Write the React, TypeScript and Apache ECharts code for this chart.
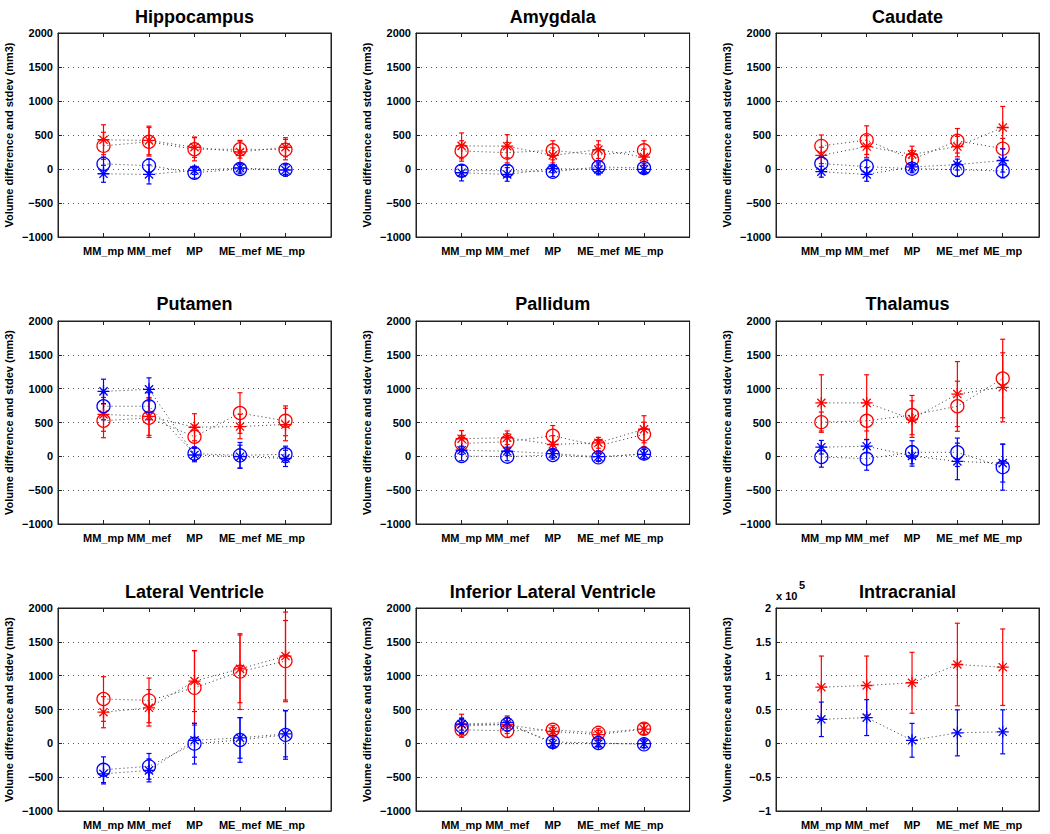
import React, { useEffect, useRef } from "react";
import * as echarts from "echarts";

const FONT = '"Liberation Sans", Arial, Helvetica, sans-serif';

const regions = [
  "Hippocampus",
  "Amygdala",
  "Caudate",
  "Putamen",
  "Pallidum",
  "Thalamus",
  "Lateral Ventricle",
  "Inferior Lateral Ventricle",
  "Intracranial",
];
const methods = ["MM_mp", "MM_mef", "MP", "ME_mef", "ME_mp"];

// one row per region, one value per method (mm3)
const redCircleMean: (number[] | null)[] = [
  [340, 400, 290, 290, 285],
  [265, 240, 275, 205, 275],
  [340, 425, 140, 415, 300],
  [525, 570, 290, 640, 525],
  [190, 215, 305, 155, 325],
  [505, 525, 610, 740, 1150],
  [655, 635, 820, 1060, 1215],
  [200, 185, 200, 155, 215],
  null,
];
const redCircleSd: (number[] | null)[] = [
  [200, 210, 170, 130, 150],
  [150, 150, 140, 150, 140],
  [160, 210, 130, 180, 150],
  [250, 290, 170, 300, 220],
  [120, 120, 150, 80, 180],
  [150, 280, 290, 370, 580],
  [330, 330, 550, 560, 600],
  [110, 100, 60, 60, 80],
  null,
];
const redStarMean: number[][] = [
  [430, 420, 320, 250, 320],
  [340, 335, 200, 285, 175],
  [200, 330, 215, 330, 610],
  [620, 590, 430, 440, 470],
  [260, 275, 175, 200, 400],
  [790, 790, 550, 920, 1020],
  [460, 525, 920, 1100, 1290],
  [280, 275, 175, 130, 210],
  [83000, 85500, 89500, 116500, 112500],
];
const redStarSd: number[][] = [
  [220, 210, 150, 160, 140],
  [190, 170, 110, 130, 120],
  [120, 160, 120, 150, 310],
  [250, 280, 200, 180, 240],
  [120, 100, 130, 80, 200],
  [415, 415, 270, 480, 510],
  [230, 270, 450, 500, 650],
  [150, 130, 60, 60, 80],
  [46000, 43500, 45000, 61000, 56500],
];
const blueCircleMean: (number[] | null)[] = [
  [75, 50, -55, 0, -10],
  [-25, -25, -40, 30, 15],
  [80, 35, 5, -10, -30],
  [740, 740, 40, 15, 30],
  [5, -5, 20, -15, 40],
  [-10, -35, 60, 60, -160],
  [-390, -340, -5, 50, 125],
  [255, 280, 20, 5, -15],
  null,
];
const blueCircleSd: (number[] | null)[] = [
  [100, 100, 80, 70, 70],
  [80, 80, 70, 70, 70],
  [100, 110, 60, 100, 100],
  [200, 200, 100, 190, 120],
  [70, 60, 60, 60, 70],
  [150, 170, 170, 210, 340],
  [190, 190, 300, 330, 360],
  [110, 100, 60, 50, 50],
  null,
];
const blueStarMean: number[][] = [
  [-70, -80, -20, 15, -15],
  [-55, -80, 5, -5, -5],
  [-40, -80, 30, 65, 125],
  [960, 990, 20, -5, -30],
  [90, 75, 40, -5, 30],
  [135, 150, 5, -75, -100],
  [-450, -400, 45, 80, 140],
  [285, 305, -5, -5, -5],
  [35500, 38000, 4500, 15500, 17000],
];
const blueStarSd: number[][] = [
  [125, 140, 60, 60, 90],
  [120, 100, 60, 80, 60],
  [80, 100, 60, 80, 170],
  [180, 170, 100, 170, 120],
  [60, 60, 60, 60, 70],
  [100, 100, 150, 270, 280],
  [150, 170, 250, 300, 340],
  [90, 80, 60, 50, 60],
  [25500, 26500, 25000, 34000, 32500],
];

const yMin = [-1000, -1000, -1000, -1000, -1000, -1000, -1000, -1000, -100000];
const yMax = [2000, 2000, 2000, 2000, 2000, 2000, 2000, 2000, 200000];
const yStep = [500, 500, 500, 500, 500, 500, 500, 500, 50000];
const yLabelScale = [1, 1, 1, 1, 1, 1, 1, 1, 100000];

const colLeft = [58, 416, 776];
const colWidth = [273, 273.6, 263];
const colXMax = [6, 6, 5.8];
const rowTop = [33, 321, 608];
const rowHeight = [204, 203, 203];
const titleY = [17, 304, 592];

const RED = "#ff0000";
const BLUE = "#0000ff";
const AXIS = "#222222";
const STAR =
  "path://M0,5L10,5M5,0L5,10M1.6,1.6L8.4,8.4M1.6,8.4L8.4,1.6";

function errorSeries(g: number, means: number[], sds: number[], color: string) {
  return {
    type: "custom",
    xAxisIndex: 2 * g,
    yAxisIndex: 2 * g,
    encode: { x: 0, y: 1 },
    z: 2,
    silent: true,
    renderItem: (_params: any, api: any) => {
      const x = api.value(0);
      const m = api.value(1);
      const s = api.value(2);
      const top = api.coord([x, m + s]);
      const bot = api.coord([x, m - s]);
      const hw = 2.5;
      const style = { stroke: color, lineWidth: 1.2 };
      return {
        type: "group",
        children: [
          { type: "line", shape: { x1: top[0], y1: top[1], x2: bot[0], y2: bot[1] }, style },
          { type: "line", shape: { x1: top[0] - hw, y1: top[1], x2: top[0] + hw, y2: top[1] }, style },
          { type: "line", shape: { x1: bot[0] - hw, y1: bot[1], x2: bot[0] + hw, y2: bot[1] }, style },
        ],
      };
    },
    data: means.map((m, i) => [i + 1, m, sds[i]]),
  };
}

function markerSeries(g: number, means: number[], symbol: string, size: number, color: string) {
  return {
    type: "line",
    xAxisIndex: 2 * g,
    yAxisIndex: 2 * g,
    z: 3,
    silent: true,
    symbol,
    symbolSize: size,
    showSymbol: true,
    itemStyle: { color: "transparent", borderColor: color, borderWidth: 1.3 },
    lineStyle: { color: "#333333", width: 1, type: [1, 3] },
    data: means.map((m, i) => [i + 1, m]),
  };
}

function buildOption() {
  const grid: any[] = [];
  const xAxis: any[] = [];
  const yAxis: any[] = [];
  const series: any[] = [];
  const graphic: any[] = [];

  regions.forEach((name, g) => {
    const row = Math.floor(g / 3);
    const col = g % 3;
    grid.push({
      left: colLeft[col],
      top: rowTop[row],
      width: colWidth[col],
      height: rowHeight[row],
      show: true,
      borderColor: AXIS,
      borderWidth: 1,
      backgroundColor: "transparent",
    });
    xAxis.push({
      gridIndex: g,
      type: "value",
      position: "bottom",
      min: 0,
      max: colXMax[col],
      interval: 1,
      axisLine: { show: true, onZero: false, lineStyle: { color: AXIS } },
      axisTick: { show: true, inside: true, length: 4, lineStyle: { color: AXIS } },
      axisLabel: {
        show: true,
        margin: 8,
        color: "#000",
        fontFamily: FONT,
        fontWeight: "bold",
        fontSize: 11,
        showMinLabel: false,
        showMaxLabel: false,
        formatter: (v: number) => (Number.isInteger(v) && methods[v - 1]) || "",
      },
      splitLine: { show: false },
    });
    xAxis.push({
      gridIndex: g,
      type: "value",
      position: "top",
      min: 0,
      max: colXMax[col],
      interval: 1,
      axisLine: { show: true, onZero: false, lineStyle: { color: AXIS } },
      axisTick: { show: true, inside: true, length: 4, lineStyle: { color: AXIS } },
      axisLabel: { show: false },
      splitLine: { show: false },
    });
    const sc = yLabelScale[g];
    yAxis.push({
      gridIndex: g,
      type: "value",
      position: "left",
      min: yMin[g],
      max: yMax[g],
      interval: yStep[g],
      name: "Volume difference and stdev (mm3)",
      nameLocation: "middle",
      nameGap: 44,
      nameTextStyle: { color: "#000", fontFamily: FONT, fontWeight: "bold", fontSize: 11 },
      axisLine: { show: true, onZero: false, lineStyle: { color: AXIS } },
      axisTick: { show: true, inside: true, length: 4, lineStyle: { color: AXIS } },
      axisLabel: {
        margin: 5,
        color: "#000",
        fontFamily: FONT,
        fontWeight: "bold",
        fontSize: 11,
        formatter: (v: number) => String(Math.round((v / sc) * 100) / 100).replace("-", "\u2212"),
      },
      splitLine: { show: true, lineStyle: { color: "#555555", width: 1, type: [1, 4] } },
    });
    yAxis.push({
      gridIndex: g,
      type: "value",
      position: "right",
      min: yMin[g],
      max: yMax[g],
      interval: yStep[g],
      axisLine: { show: true, onZero: false, lineStyle: { color: AXIS } },
      axisTick: { show: true, inside: true, length: 4, lineStyle: { color: AXIS } },
      axisLabel: { show: false },
      splitLine: { show: false },
    });

    const rcm = redCircleMean[g];
    const rcs = redCircleSd[g];
    const bcm = blueCircleMean[g];
    const bcs = blueCircleSd[g];
    if (rcm && rcs) series.push(errorSeries(g, rcm, rcs, RED));
    series.push(errorSeries(g, redStarMean[g], redStarSd[g], RED));
    if (bcm && bcs) series.push(errorSeries(g, bcm, bcs, BLUE));
    series.push(errorSeries(g, blueStarMean[g], blueStarSd[g], BLUE));
    if (rcm) series.push(markerSeries(g, rcm, "circle", 13, RED));
    series.push(markerSeries(g, redStarMean[g], STAR, 12, RED));
    if (bcm) series.push(markerSeries(g, bcm, "circle", 13, BLUE));
    series.push(markerSeries(g, blueStarMean[g], STAR, 12, BLUE));

    graphic.push({
      type: "text",
      x: colLeft[col] + colWidth[col] / 2,
      y: titleY[row],
      style: {
        text: name,
        fill: "#000",
        font: `bold 18px ${FONT}`,
        textAlign: "center",
        textVerticalAlign: "middle",
      },
    });
  });

  graphic.push({
    type: "text",
    x: 776,
    y: 596,
    style: { text: "x 10", fill: "#000", font: `bold 11px ${FONT}`, textAlign: "left", textVerticalAlign: "middle" },
  });
  graphic.push({
    type: "text",
    x: 799,
    y: 585,
    style: { text: "5", fill: "#000", font: `bold 11px ${FONT}`, textAlign: "left", textVerticalAlign: "middle" },
  });

  return {
    animation: false,
    backgroundColor: "#ffffff",
    grid,
    xAxis,
    yAxis,
    series,
    graphic,
  };
}

export default function App() {
  const ref = useRef<HTMLDivElement>(null);
  useEffect(() => {
    if (!ref.current) return;
    const chart = echarts.init(ref.current, undefined, { renderer: "svg" });
    chart.setOption(buildOption() as any);
    return () => chart.dispose();
  }, []);
  return (
    <div
      ref={ref}
      style={{ position: "absolute", left: 0, top: 0, width: 1050, height: 834, background: "#fff" }}
    />
  );
}
